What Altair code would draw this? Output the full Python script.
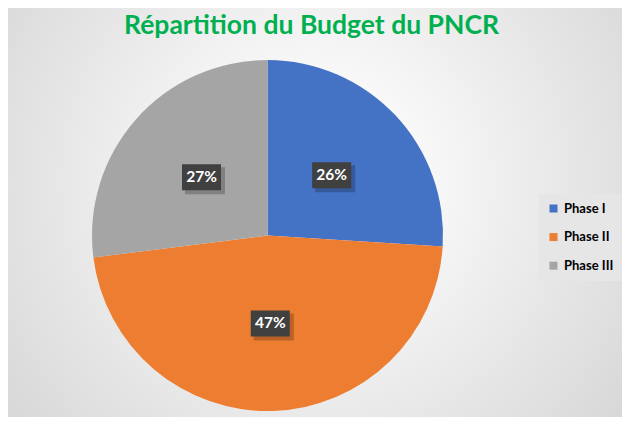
import altair as alt
import pandas as pd

categories = ["Phase I", "Phase II", "Phase III"]
shares = [26, 47, 27]
labels = ["26%", "47%", "27%"]
colors = ["#4472C4", "#ED7D31", "#A5A5A5"]
TITLE = "Répartition du Budget du PNCR"

W, H = 614, 409
CX, CY = 259.5, 227.5
R = 175.5
LR = 88
BW, BH = 39, 26

df = pd.DataFrame({"phase": categories, "share": shares, "label": labels, "order": [0, 1, 2]})

bg = alt.Chart(pd.DataFrame({"a": [0]})).mark_rect(
    color=alt.RadialGradient(
        gradient="radial",
        stops=[alt.GradientStop(color="#FFFFFF", offset=0),
               alt.GradientStop(color="#FAFAFA", offset=0.2),
               alt.GradientStop(color="#CFCFCF", offset=1)],
        x1=0.5, y1=0.45, x2=0.5, y2=0.45, r1=0, r2=0.75)
).encode(x=alt.value(0), x2=alt.value(W), y=alt.value(0), y2=alt.value(H))

title = alt.Chart(pd.DataFrame({"t": [TITLE]})).mark_text(
    font="Lato", fontWeight="bold", fontSize=26.5, color="#00B050",
    align="center", baseline="alphabetic"
).encode(x=alt.value(303.5), y=alt.value(26), text="t:N")

pie = alt.Chart(df).mark_arc(outerRadius=R).encode(
    theta=alt.Theta("share:Q", stack=True),
    color=alt.Color("phase:N", scale=alt.Scale(domain=categories, range=colors),
                    legend=alt.Legend(title=None, orient="none", legendX=531, legendY=186,
                                      fillColor="#E6E6E6", padding=8, symbolType="square",
                                      symbolSize=64, symbolStrokeWidth=0,
                                      labelFont="Lato", labelFontWeight="bold",
                                      labelFontSize=13, labelColor="#000000",
                                      rowPadding=14.6, labelOffset=4)),
    order=alt.Order("order:Q"),
    x=alt.value(CX), y=alt.value(CY),
)

pos = (alt.Chart(df)
       .transform_joinaggregate(total="sum(share)")
       .transform_window(cum="sum(share)", sort=[alt.SortField("order")])
       .transform_calculate(mid="2*PI*(datum.cum - datum.share/2)/datum.total")
       .transform_calculate(lx=f"{CX} + {LR}*sin(datum.mid)")
       .transform_calculate(ly=f"{CY} - {LR}*cos(datum.mid)")
       .transform_calculate(bx1=f"datum.lx - {BW/2}", bx2=f"datum.lx + {BW/2}")
       .transform_calculate(by1=f"datum.ly - {BH/2}", by2=f"datum.ly + {BH/2}")
       .transform_calculate(sx1="datum.bx1 + 3", sx2="datum.bx2 + 4",
                            sy1="datum.by1 + 3", sy2="datum.by2 + 4"))

shadow = pos.mark_rect(color="#000000", opacity=0.22).encode(
    x=alt.X("sx1:Q", scale=None), x2="sx2:Q",
    y=alt.Y("sy1:Q", scale=None), y2="sy2:Q")

box = pos.mark_rect(color="#404040").encode(
    x=alt.X("bx1:Q", scale=None), x2="bx2:Q",
    y=alt.Y("by1:Q", scale=None), y2="by2:Q")

txt = pos.mark_text(font="Lato", fontWeight="bold", fontSize=15.5, color="#FFFFFF",
                    align="center", baseline="middle").encode(
    x=alt.X("lx:Q", scale=None), y=alt.Y("ly:Q", scale=None), text="label:N")

chart = alt.layer(bg, pie, shadow, box, txt, title).properties(
    width=W, height=H, padding=0, autosize=alt.AutoSizeParams(type="none")
).configure_view(strokeWidth=0)

chart.save("out.html", embed_options={"renderer": "svg", "actions": False})
